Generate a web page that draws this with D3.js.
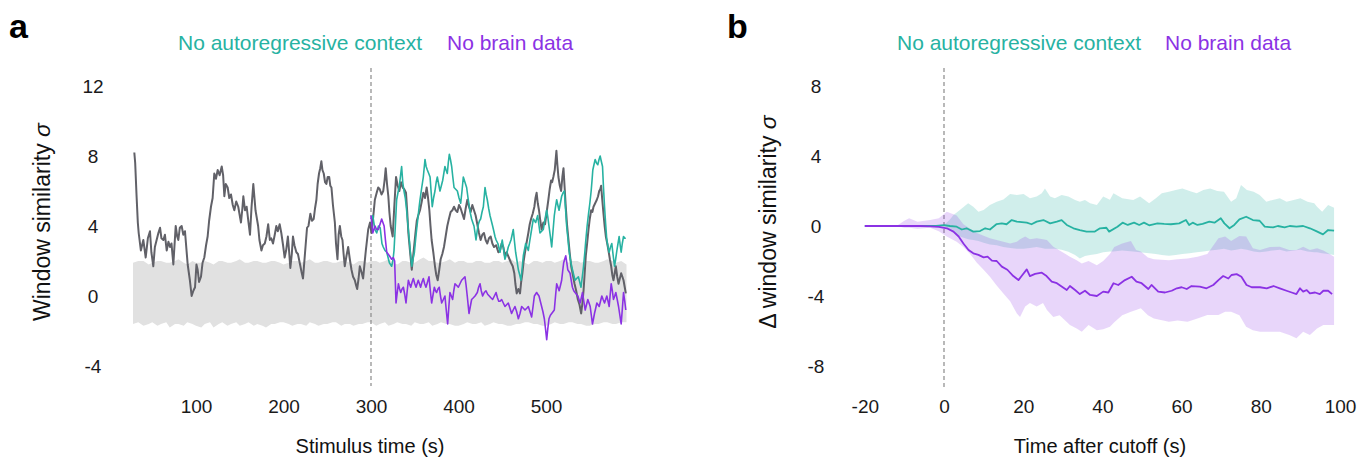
<!DOCTYPE html>
<html>
<head>
<meta charset="utf-8">
<script src="https://cdn.jsdelivr.net/npm/d3@7"></script>
<style>
  body { margin: 0; background: #fff; }
  text { font-family: "Liberation Sans", Arial, Helvetica, sans-serif; }
</style>
</head>
<body>
<div id="chart"></div>
<script>
// ---- data, panel a (stimulus time in s, window similarity in sigma) ----
var fullContext = [[29.5,8.2],[30.5,7.6],[32,5.8],[33.5,4.2],[34.5,3.6],[37,2.6],[39.8,3.2],[42.5,2.2],[45,3.3],[47.4,3.7],[49,2.5],[51.2,1.7],[53,2.8],[55,3.2],[57,3.6],[58.9,3.9],[60.5,3.3],[62.7,3.2],[64.5,3.5],[66.5,2.6],[68.5,3.1],[70.3,2.8],[72,3.0],[74.1,1.8],[76.8,4.0],[78.5,3.4],[79.8,3.2],[81.5,3.9],[83.6,4.0],[85.5,3.5],[87.4,3.7],[90.5,1.8],[93,0.9],[95,0.0],[97,0.3],[98.9,0.5],[100.5,1.8],[101.9,1.5],[103.5,0.8],[105.7,1.1],[107.5,1.9],[109.5,2.2],[111.5,2.9],[113.3,3.4],[115,4.3],[117.1,5.1],[119,5.6],[120.9,7.0],[122.8,6.7],[124.8,7.2],[127,6.9],[129.4,7.4],[131,6.9],[132.4,5.7],[134,6.4],[136.2,6.2],[138,5.6],[140,5.8],[142,5.2],[143.8,4.9],[146,5.4],[148.3,5.1],[150,4.6],[151.4,4.2],[153,5.0],[154.1,5.7],[156,4.9],[157.9,5.1],[160,4.2],[161.7,3.5],[163.5,5.1],[165.5,6.4],[168,4.9],[171,4.0],[172.5,3.2],[174.8,2.6],[176.5,2.9],[178.6,3.0],[180.5,3.4],[182.5,4.1],[184.4,3.2],[186,3.3],[188,3.0],[190,3.5],[191.8,4.0],[193.5,3.7],[195.6,4.1],[197.5,3.6],[199.5,2.9],[201.3,2.2],[203,2.6],[205,3.4],[206.5,2.5],[207.8,1.6],[209.5,2.4],[210.8,3.4],[212.5,2.9],[214.7,2.5],[216.5,2.4],[218.5,1.9],[220.5,1.4],[222.3,1.0],[224.5,2.4],[226.9,3.9],[228.5,4.0],[230.7,4.7],[232.5,4.3],[234.5,4.4],[236,5.0],[237.6,5.5],[239,6.4],[240.6,7.0],[242,7.3],[243.3,7.7],[244.5,7.2],[246,7.0],[247.5,6.5],[249,6.4],[250.5,6.8],[252.2,6.8],[253.5,6.3],[254.8,6.2],[256.5,5.2],[258.7,4.2],[260,3.0],[261.7,2.1],[263,3.5],[264.4,4.0],[266,3.4],[267.4,3.2],[268.7,2.4],[270,1.7],[272,2.3],[273.9,2.8],[275.8,2.1],[277.7,1.5],[279.5,1.1],[281.5,0.9],[283,0.6],[284.2,0.4],[285.8,1.0],[287.2,1.7],[289,1.4],[291,1.0],[292.5,1.8],[294.1,2.6],[296.8,3.8],[298.9,4.2],[300.6,3.6],[302.5,4.5],[304.4,5.5],[306.5,5.9],[308.2,6.2],[310,6.1],[312,5.8],[314,6.0],[315.5,6.6],[316.8,7.3],[318.3,6.4],[319.8,5.7],[321,4.8],[322.5,4.0],[324.8,3.4],[326.5,5.0],[328.6,6.8],[330.5,6.3],[332.4,6.0],[334.3,6.5],[336.2,6.2],[338,6.1],[340,5.9],[341.4,4.8],[342.7,3.6],[344.5,2.6],[346.6,1.5],[348,2.2],[349.2,2.8],[350.8,3.6],[352.3,4.3],[354,4.6],[356,4.9],[358,5.4],[359.8,5.9],[361.7,5.6],[363.6,6.2],[365.2,5.6],[366.7,4.9],[368,4.0],[369.3,3.2],[371.2,2.5],[373.1,1.7],[374.6,1.2],[376.2,0.9],[378,1.5],[379.6,2.1],[381.5,2.4],[383.4,2.8],[385.3,3.4],[387.2,4.0],[389,4.4],[391,4.8],[393,4.9],[394.9,5.1],[396.8,4.9],[398.7,4.8],[400.6,5.2],[402.5,5.0],[404.4,4.7],[406.3,4.4],[408.2,5.0],[410.1,5.5],[412,5.1],[413.9,4.8],[415.8,5.2],[417.7,4.9],[419.6,4.6],[421.5,4.1],[423.4,3.6],[425.3,3.2],[427.2,3.5],[429.1,3.6],[431,3.2],[432.9,3.0],[434.8,3.3],[436.8,3.4],[438.7,3.0],[440.6,2.8],[443,2.9],[445.5,2.5],[447.4,2.6],[449.3,3.0],[451.2,2.8],[453,2.3],[455,2.5],[457.5,2.2],[460,1.9],[462,1.7],[463.8,1.3],[465,0.7],[466.5,0.15],[468.4,0.4],[470.3,0.15],[471.6,0.8],[473,1.3],[474.5,2.0],[476,2.5],[478,3.1],[479.8,3.6],[481.4,4.1],[482.9,4.4],[484.8,4.7],[486.7,5.1],[488,5.6],[489.3,5.9],[490.6,5.3],[492,4.9],[493.5,4.3],[495,3.8],[497,4.2],[498.9,4.1],[500.8,4.8],[502.7,5.5],[504.2,6.1],[505.8,6.6],[507,6.5],[508.4,6.8],[510,7.2],[511.9,8.3],[513,7.5],[514.2,6.8],[515.8,6.3],[517.3,6.0],[518.7,6.8],[520,7.3],[521.3,6.2],[522.6,5.1],[524,4.1],[525.7,3.2],[527.2,2.4],[528.8,1.7],[530.7,1.2],[532.6,0.7],[534.5,0.3],[536.4,-0.2],[538.3,-0.5],[540.2,-1.0],[541.6,-0.4],[542.9,0.3],[544.2,1.3],[545.5,2.3],[547,3.0],[548.6,3.8],[550,4.4],[551.6,4.9],[553,4.8],[554.3,5.1],[556.2,5.3],[558.1,5.5],[559.5,5.7],[560.8,6.0],[562,6.1],[563,6.3],[564.3,5.5],[565.7,4.7],[567,4.0],[568.4,3.4],[570,3.0],[571.4,2.6],[573,2.1],[574.5,1.7],[575.8,1.2],[577.1,0.9],[578.5,1.3],[579.8,1.7],[581.4,1.1],[582.9,0.7],[584.4,1.0],[585.9,1.3],[587.3,1.1],[588.6,0.9],[590,0.5],[591.2,0.15]];

var noContext = [[300,4.4],[302,4.6],[304.5,3.8],[306.5,3.6],[308.5,4.0],[310.5,3.9],[312.5,3.0],[314,2.8],[316,2.6],[318,2.5],[319.5,2.2],[321,1.9],[323.6,1.7],[325,2.0],[326.3,2.6],[327.8,4.0],[329.3,5.5],[330.8,5.9],[332.4,6.3],[333.8,6.9],[335,7.4],[336.3,6.5],[337.7,6.0],[339.2,5.6],[340.7,4.9],[342.3,4.0],[343.8,3.2],[345.2,2.4],[346.6,1.7],[348,2.1],[349.6,2.5],[351.5,3.5],[353.5,4.4],[354.8,5.0],[356,5.5],[358,6.2],[359.8,6.8],[361.7,7.8],[363,7.4],[364.4,7.2],[366,7.0],[367.5,6.8],[368.8,5.9],[370,5.1],[371.5,5.6],[373.1,6.0],[374.5,6.5],[375.8,6.8],[377.3,6.4],[378.8,6.0],[380.4,6.3],[381.9,6.6],[383.2,7.0],[384.5,7.4],[385.8,7.2],[387.2,7.0],[388.3,7.6],[389.5,8.1],[390.8,7.8],[392.2,7.4],[393.5,6.8],[394.9,6.2],[396.8,6.1],[398.7,6.0],[400.6,5.6],[402.5,5.3],[404,6.0],[405.5,6.8],[407.4,6.5],[409.3,6.2],[410.9,5.6],[412.4,5.1],[413.7,4.7],[415,4.4],[416.3,4.2],[417.7,4.0],[418.9,3.6],[420,3.2],[421.3,3.7],[422.7,4.1],[424,4.3],[425.3,4.4],[426.9,4.8],[428.4,5.1],[430.3,6.2],[431.6,5.8],[432.9,5.5],[434.5,5.0],[436,4.6],[437.5,4.3],[439,4.0],[440.4,3.7],[441.7,3.4],[443,3.2],[445,3.0],[447.4,2.5],[450,3.2],[451.5,2.7],[453,2.1],[455,2.4],[456.9,2.8],[458.5,3.0],[460,3.2],[462.6,3.8],[464,3.1],[465.3,2.5],[466.9,2.0],[468.4,1.5],[470,1.2],[471.4,0.9],[472.8,1.6],[474.1,2.3],[476.8,3.0],[478.3,2.8],[479.8,2.6],[481.3,3.1],[482.9,3.6],[484.2,4.0],[485.5,4.4],[486.9,4.3],[488.2,4.2],[490.5,4.6],[491.8,4.1],[493.1,3.6],[495,3.7],[496.9,3.8],[498.9,4.4],[500.8,4.9],[502.1,4.5],[503.4,4.0],[505,3.4],[506.5,2.8],[508,3.7],[509.5,4.6],[510.9,5.1],[512.2,5.5],[513.5,5.2],[514.9,4.9],[516.4,5.3],[517.9,5.7],[519.5,5.9],[521,6.0],[522.3,5.0],[523.6,4.0],[525,3.3],[526.3,2.6],[527.8,2.1],[529.3,1.7],[531.2,1.3],[533.2,0.9],[535,1.0],[537,1.1],[538.5,0.8],[540,0.5],[541.5,1.1],[542.9,1.7],[544.2,2.4],[545.5,3.2],[547,4.0],[548.6,4.7],[550.1,5.3],[551.6,6.0],[552.6,6.6],[553.5,7.2],[554.8,7.5],[556.2,7.8],[557.7,7.6],[559.2,7.5],[560.6,7.8],[561.9,8.0],[563.2,7.7],[564.6,7.4],[565.7,6.2],[566.9,5.1],[568.2,4.1],[569.5,3.2],[570.9,2.8],[572.2,2.5],[573.7,2.8],[575.2,3.0],[576.8,2.3],[578.3,1.7],[579.6,2.1],[581,2.6],[582.3,3.0],[583.6,3.4],[584.8,2.9],[585.9,2.5],[587.2,3.0],[588.6,3.4],[590,3.3],[591.2,3.3]];

var noBrain = [[300,4.6],[302,3.6],[304.6,4.0],[306.5,3.8],[308.4,3.8],[310.3,4.1],[312.2,4.4],[313.6,4.2],[315,4.0],[316.5,3.2],[318,2.5],[319.5,2.4],[321,2.3],[323.6,2.1],[325.5,2.2],[327,2.0],[328.6,-0.4],[330,0.2],[331.3,0.7],[332.7,0.4],[334,0.2],[335.5,0.4],[337,0.5],[338.5,0.1],[340,-0.4],[341.4,0.3],[342.7,0.9],[344,0.7],[345.4,0.5],[347,0.8],[348.4,1.0],[350,0.7],[351.5,0.5],[352.7,0.7],[354,0.9],[355.4,0.7],[356.7,0.5],[358.3,0.8],[359.8,1.0],[361.3,0.7],[362.8,0.5],[364.6,0.8],[366.3,1.1],[367.8,0.3],[369.3,-0.4],[371,0.1],[372.4,0.5],[373.7,0.3],[375,0.2],[376.5,0.4],[378,0.5],[379.4,0.0],[380.8,-0.4],[382.7,-0.2],[384.5,0.0],[386,-0.8],[387.6,-1.6],[389,-0.6],[390.2,0.2],[391.8,0.0],[393.3,-0.2],[394.6,0.3],[396,0.7],[398,0.6],[399.8,0.5],[401.7,0.7],[403.6,0.9],[405.5,1.0],[407.4,1.1],[408.7,0.6],[410,0.0],[411,-0.5],[412,-1.0],[413.5,-0.6],[415,-0.2],[417,-0.1],[418.9,0.0],[420.2,0.1],[421.5,0.2],[423,0.5],[424.6,0.7],[426,0.3],[427.6,0.0],[429.5,0.2],[431.4,0.3],[433.3,0.1],[435.2,0.0],[437,-0.1],[439,-0.2],[441,0.0],[442.9,0.2],[444.5,-0.1],[446,-0.3],[447.5,-0.3],[449.3,-0.2],[451.2,-0.4],[453.1,-0.6],[455,-0.5],[456.9,-0.4],[458.8,-0.7],[460.7,-1.0],[462.5,-0.8],[464.5,-0.6],[466.5,-0.9],[468.4,-1.3],[470.3,-1.0],[472.2,-0.6],[474.1,-0.7],[476,-0.8],[478,-0.7],[479.8,-0.6],[481.7,-0.9],[483.6,-1.2],[485.2,-0.6],[486.7,0.0],[488,0.1],[489.3,0.2],[490.6,0.1],[492,0.0],[493.5,-0.3],[495,-0.6],[496.5,-0.9],[498.1,-1.3],[499.5,-1.9],[500.8,-2.5],[502,-1.9],[503.4,-1.3],[505,-1.1],[506.5,-1.0],[508,-0.9],[509.5,-0.8],[510.9,0.0],[512.2,0.7],[513.6,0.5],[515,0.3],[516.5,0.6],[517.9,0.9],[519,1.4],[520.2,1.9],[521.4,2.1],[522.6,2.3],[523.8,1.9],[524.9,1.5],[526.2,1.4],[527.5,1.3],[528.8,0.9],[530.2,0.5],[531.7,0.3],[533.2,0.2],[534.8,0.1],[536.4,0.0],[537.7,-0.2],[539,-0.4],[540.4,-0.1],[541.7,0.2],[543.2,-0.3],[544.8,-0.8],[546.3,-0.5],[547.8,-0.2],[549.2,-0.4],[550.5,-0.6],[551.8,-1.1],[553.1,-1.6],[554.3,-1.3],[555.4,-1.0],[556.8,-0.7],[558.1,-0.4],[559.5,-0.5],[560.8,-0.6],[562.3,-0.3],[563.8,0.0],[565.3,-0.2],[566.9,-0.4],[568.2,-0.2],[569.5,0.0],[570.9,-0.3],[572.2,-0.6],[573.4,0.1],[574.5,0.7],[575.8,0.3],[577.1,-0.2],[578.5,0.0],[579.8,0.2],[581.4,-0.2],[582.9,-0.6],[584.4,-1.1],[585.9,-1.6],[587.3,-0.7],[588.6,0.2],[590,-0.3],[591.2,-0.8]];

// null distribution band [t, low, high]
var nullBand = [[28,-1.6,1.9],[34,-1.5,2.0],[40,-1.7,2.0],[46,-1.6,1.8],[50,-1.5,1.9],[56,-1.7,2.0],[60,-1.6,2.0],[66,-1.5,1.9],[70,-1.8,1.9],[76,-1.6,2.0],[80,-1.6,2.1],[86,-1.7,1.9],[90,-1.5,1.8],[96,-1.6,2.0],[100,-1.7,1.9],[106,-1.8,1.9],[110,-1.6,2.0],[116,-1.5,1.9],[120,-1.8,1.8],[126,-1.6,2.0],[130,-1.5,2.0],[136,-1.7,1.9],[140,-1.6,1.9],[146,-1.5,2.0],[150,-1.7,2.1],[156,-1.6,1.9],[160,-1.5,1.9],[166,-1.7,2.0],[170,-1.6,2.0],[176,-1.7,1.9],[180,-1.8,1.9],[186,-1.6,2.0],[190,-1.6,2.0],[196,-1.5,1.9],[200,-1.5,1.8],[206,-1.6,1.9],[210,-1.7,2.0],[216,-1.6,2.0],[220,-1.6,1.9],[226,-1.7,2.0],[230,-1.5,2.1],[236,-1.6,1.9],[240,-1.7,1.9],[246,-1.6,2.0],[250,-1.6,2.0],[256,-1.5,1.9],[260,-1.5,1.9],[266,-1.7,2.0],[270,-1.6,2.0],[276,-1.6,1.9],[280,-1.7,1.8],[286,-1.6,2.0],[290,-1.6,2.0],[296,-1.5,1.9],[300,-1.5,2.0],[306,-1.7,2.0],[310,-1.6,1.9],[316,-1.5,2.0],[320,-1.7,2.1],[326,-1.6,1.9],[330,-1.5,1.8],[336,-1.6,2.0],[340,-1.6,2.0],[346,-1.7,1.9],[350,-1.5,1.9],[356,-1.6,2.1],[360,-1.6,2.2],[366,-1.5,2.0],[370,-1.7,2.0],[376,-1.6,1.9],[380,-1.5,1.9],[386,-1.6,2.0],[390,-1.6,2.1],[396,-1.7,1.9],[400,-1.7,2.0],[406,-1.6,2.0],[410,-1.5,1.9],[416,-1.6,1.9],[420,-1.6,2.0],[426,-1.5,2.0],[430,-1.7,1.9],[436,-1.6,1.9],[440,-1.5,2.0],[446,-1.6,2.0],[450,-1.6,1.9],[456,-1.7,2.0],[460,-1.7,2.1],[466,-1.6,1.9],[470,-1.6,2.0],[476,-1.5,1.9],[480,-1.5,1.8],[486,-1.6,2.0],[490,-1.6,2.0],[496,-1.7,1.9],[500,-1.7,2.0],[506,-1.6,2.0],[510,-1.5,1.9],[516,-1.6,2.0],[520,-1.6,2.1],[526,-1.5,1.9],[530,-1.5,2.0],[536,-1.6,2.0],[540,-1.6,1.9],[546,-1.7,2.0],[550,-1.7,2.0],[556,-1.6,1.9],[560,-1.6,1.9],[566,-1.5,2.0],[570,-1.5,2.1],[576,-1.6,2.0],[580,-1.6,1.9],[586,-1.5,2.0],[592,-1.5,1.8]];

// ---- data, panel b (time after cutoff in s, delta window similarity) ----
var deltaContext = [[-20,0],[-15,0],[-10,0],[-5,0],[-2,0],[0,0.05],[1.5,0.0],[3.2,-0.04],[4.5,-0.2],[5.7,-0.13],[7.4,-0.32],[9.1,-0.29],[10.4,-0.13],[11.6,-0.2],[13.3,0.11],[14.6,0.15],[15.8,0.1],[17.1,0.34],[18.4,0.25],[20.9,0.19],[22.1,0.1],[23.4,0.25],[25.1,0.34],[26.8,0.15],[28.5,0.25],[29.7,0.34],[31,0.06],[32.7,-0.13],[34.3,-0.23],[36,-0.32],[38.1,-0.32],[39.4,-0.13],[41,-0.1],[41.7,-0.32],[43.8,-0.04],[45.1,0.19],[46.4,0.06],[48,0.19],[49.3,0.06],[50.5,0.19],[51.8,0.04],[53.9,0.15],[55.6,0.12],[57.3,0.1],[59.4,0.15],[61.1,0.34],[61.9,0.06],[62.8,0.19],[64,0.06],[65.3,0.12],[67,0.25],[68.3,0.19],[69.9,0.44],[70.8,0.15],[72.1,-0.13],[73.3,0.06],[74.6,0.38],[76.3,0.53],[78,0.34],[79.7,0.3],[81,-0.04],[83.1,-0.08],[84.3,0.0],[86,-0.08],[87.3,0.0],[89,-0.04],[90.7,0.0],[92.4,-0.13],[94,-0.29],[95.7,-0.48],[97,-0.23],[98.5,-0.27]];

var deltaBrain = [[-20,0],[-15,0],[-10,0],[-6,0],[-3.5,-0.02],[-1.3,-0.05],[0.7,-0.13],[2.4,-0.32],[3.7,-0.6],[4.9,-1.0],[6.2,-1.37],[7.4,-1.56],[8.7,-1.65],[10,-1.79],[11,-1.75],[12.1,-1.98],[13.3,-2.0],[14.6,-2.32],[16,-2.5],[17.5,-2.86],[18.8,-3.09],[19.6,-2.86],[20.9,-2.48],[21.7,-2.86],[23,-2.74],[24.7,-2.67],[25.9,-2.86],[27.2,-3.18],[28.5,-3.27],[29.7,-3.46],[31,-3.66],[31.8,-3.43],[33.1,-3.66],[34.3,-3.89],[35.6,-3.7],[36.9,-3.94],[38.6,-4.0],[40.2,-3.75],[41.5,-3.8],[42.8,-3.27],[44,-3.37],[45.7,-3.09],[47.4,-2.9],[48.6,-3.18],[49.9,-3.27],[51.6,-3.6],[52.4,-3.37],[54.1,-3.75],[55.8,-3.8],[57.5,-3.7],[58.8,-3.56],[60,-3.5],[61.3,-3.6],[62.5,-3.43],[64.6,-3.46],[66.3,-3.56],[68,-3.37],[69.3,-3.09],[70.5,-2.86],[71.8,-3.0],[72.6,-2.8],[73.9,-2.75],[75.1,-2.9],[76.4,-3.37],[77.7,-3.5],[79.8,-3.5],[81.5,-3.56],[83.2,-3.43],[84.8,-3.56],[86.5,-3.7],[87.8,-3.8],[89,-3.89],[89.9,-3.56],[90.7,-3.75],[91.6,-3.66],[92.4,-3.85],[93.7,-3.8],[94.9,-3.89],[95.8,-3.7],[97,-3.7],[98,-3.89]];

// [t, low, high]
var contextBand = [[-20,0,0],[0,0,0.05],[1.6,-0.23,0.4],[2.4,-0.4,0.63],[4,-0.6,0.91],[6.1,-0.75,1.3],[7.4,-0.8,1.1],[8.7,-0.85,0.82],[10,-0.95,0.91],[11.6,-1.05,1.2],[13.3,-1.1,1.39],[15,-1.2,1.52],[16.7,-1.25,1.83],[18.4,-1.3,1.77],[20.1,-1.3,1.83],[21.7,-1.25,1.58],[23.4,-1.2,1.68],[24.7,-1.25,1.87],[25.5,-1.3,2.15],[26.8,-1.3,1.68],[28,-1.3,1.58],[29.7,-1.35,1.77],[31.4,-1.47,1.68],[33.1,-1.66,1.49],[34.3,-1.85,1.39],[35.6,-1.72,1.49],[36.9,-1.65,1.3],[38.6,-1.6,1.2],[40.2,-1.5,1.68],[41.9,-1.45,1.5],[42.8,-1.45,1.87],[45,-1.4,1.58],[47.8,-1.45,1.49],[49.5,-1.5,1.68],[51.8,-1.55,1.3],[53.5,-1.6,1.58],[55,-1.65,1.87],[56.8,-1.7,1.96],[58.5,-1.65,2.06],[60.2,-1.6,2.15],[62,-1.55,2.0],[63.8,-1.5,1.87],[65.5,-1.45,2.06],[67.2,-1.4,2.15],[69,-1.35,2.0],[70.7,-1.3,1.96],[72.5,-1.4,1.39],[73.8,-1.35,1.58],[75,-1.3,2.34],[76.5,-1.35,2.06],[78.2,-1.45,1.96],[79.7,-1.5,1.77],[81.4,-1.45,1.39],[83,-1.4,1.49],[84.8,-1.35,1.58],[86.5,-1.45,1.39],[88.3,-1.4,1.49],[90,-1.35,1.58],[91.8,-1.45,1.39],[93.5,-1.5,1.3],[94.2,-1.5,1.1],[95.5,-1.55,0.82],[97,-1.6,1.2],[98.5,-1.65,1.05]];

var brainBand = [[-20,0,0],[-12,0,0],[-10,-0.1,0.3],[-8.8,-0.1,0.44],[-6.7,-0.15,0.25],[-3.5,-0.1,0.35],[-1.3,-0.3,0.44],[0.7,-0.6,0.82],[3.2,-0.9,0.6],[4.9,-1.2,0.1],[6.6,-1.6,-0.15],[8.3,-2.1,-0.4],[10,-2.5,-0.55],[11.6,-2.9,-0.7],[13.3,-3.4,-0.8],[15,-3.85,-0.9],[16.7,-4.3,-1.0],[18.4,-5.0,-0.9],[19.2,-5.2,-0.75],[20.5,-4.6,-0.6],[21.7,-4.4,-0.75],[23.4,-4.6,-0.7],[25,-4.4,-0.75],[26,-4.8,-0.8],[27.6,-5.2,-1.18],[29.2,-5.1,-1.4],[31.8,-5.66,-1.75],[33.5,-5.85,-1.95],[34.8,-6.04,-2.14],[36.5,-5.66,-2.0],[38.6,-5.95,-2.24],[40.2,-5.9,-2.0],[41.9,-5.75,-1.6],[43,-5.5,-1.2],[45,-5.1,-1.0],[47.2,-4.9,-0.85],[48.5,-4.8,-1.37],[49.7,-4.7,-1.45],[51.5,-5.1,-1.8],[53,-5.28,-1.9],[56.8,-5.47,-1.95],[59,-5.4,-1.9],[61.5,-5.47,-1.85],[64,-5.28,-1.75],[66.5,-5.09,-1.6],[69.3,-5.09,-0.7],[71,-4.9,-0.6],[72.5,-4.9,-0.85],[74.6,-5.1,-0.57],[76.3,-5.75,-0.6],[78,-5.95,-1.27],[79.8,-6.04,-1.37],[82.3,-6.04,-1.2],[84.8,-6.04,-1.18],[87.2,-6.23,-1.37],[89,-6.42,-1.37],[90.7,-6.04,-1.18],[92.4,-6.23,-1.37],[94.2,-5.85,-1.27],[95.8,-5.66,-1.4],[98.5,-5.66,-1.75]];

var ticksA_x = [100, 200, 300, 400, 500],
    ticksA_y = [-4, 0, 4, 8, 12],
    ticksB_x = [-20, 0, 20, 40, 60, 80, 100],
    ticksB_y = [-8, -4, 0, 4, 8];

var legendLabels = ["No autoregressive context", "No brain data"];

// ---- colours ----
var teal = "#27b2a2", purple = "#8b32e4", grey = "#616168";

var W = 1368, H = 461;
var svg = d3.select("#chart").append("svg")
    .attr("width", W)
    .attr("height", H);

// scales (both panels share the vertical spacing)
var xa = d3.scaleLinear().domain([0, 600]).range([108.5, 633.5]);
var ya = d3.scaleLinear().domain([-4, 12]).range([366, 86]);
var xb = d3.scaleLinear().domain([-20, 100]).range([864.8, 1340]);
var yb = d3.scaleLinear().domain([-8, 8]).range([366, 86]);

// plain hyphen for negatives, like the original figure
function plain(d) { return String(d); }

function drawAxes(g, x, y, xt, yt, yAxisX) {
  var ax = g.append("g")
      .attr("transform", "translate(0,413)")
      .call(d3.axisBottom(x).tickValues(xt).tickSize(0).tickFormat(plain));
  ax.select(".domain").remove();
  ax.selectAll("text").attr("y", 0).attr("dy", null)
    .style("font-size", "19px").attr("fill", "#1a1a1a");

  var ay = g.append("g")
      .attr("transform", "translate(" + yAxisX + ",0)")
      .call(d3.axisLeft(y).tickValues(yt).tickSize(0).tickFormat(plain));
  ay.select(".domain").remove();
  ay.selectAll("text").attr("x", -16).attr("text-anchor", "middle")
    .style("font-size", "19px").attr("fill", "#1a1a1a");
}

function yTitle(g, x, label) {
  var t = g.append("text")
    .attr("transform", "translate(" + x + ",222) rotate(-90)")
    .attr("text-anchor", "middle")
    .style("font-size", "23px")
    .attr("fill", "#111");
  t.append("tspan").text(label + " ");
  t.append("tspan").style("font-style", "italic").text("σ");
}

// ======== panel a ========
var ga = svg.append("g");
drawAxes(ga, xa, ya, ticksA_x, ticksA_y, 109);

ga.append("path")
  .datum(nullBand)
  .attr("fill", "#e1e1e1")
  .attr("d", d3.area()
    .x(function(d) { return xa(d[0]); })
    .y0(function(d) { return ya(d[1]); })
    .y1(function(d) { return ya(d[2]); }));

ga.append("line")
  .attr("x1", xa(300)).attr("x2", xa(300))
  .attr("y1", 68).attr("y2", 386)
  .attr("stroke", "#8a8a8a").attr("stroke-width", 1.2)
  .attr("stroke-dasharray", "4,3");

var lineA = d3.line()
  .x(function(d) { return xa(d[0]); })
  .y(function(d) { return ya(d[1]); });

ga.append("path").datum(fullContext)
  .attr("fill", "none").attr("stroke", grey).attr("stroke-width", 2)
  .attr("stroke-linejoin", "round").attr("d", lineA);
ga.append("path").datum(noContext)
  .attr("fill", "none").attr("stroke", teal).attr("stroke-width", 1.6)
  .attr("stroke-linejoin", "round").attr("d", lineA);
ga.append("path").datum(noBrain)
  .attr("fill", "none").attr("stroke", purple).attr("stroke-width", 1.6)
  .attr("stroke-linejoin", "round").attr("d", lineA);

ga.append("text")
  .attr("x", 370).attr("y", 453)
  .attr("text-anchor", "middle")
  .style("font-size", "20px")
  .attr("fill", "#111")
  .text("Stimulus time (s)");

yTitle(ga, 50, "Window similarity");

ga.append("text").attr("x", 178).attr("y", 50)
  .style("font-size", "21px").attr("fill", teal).text(legendLabels[0]);
ga.append("text").attr("x", 447).attr("y", 50)
  .style("font-size", "21px").attr("fill", purple).text(legendLabels[1]);

ga.append("text").attr("x", 9).attr("y", 38)
  .style("font-size", "34px").style("font-weight", "bold").text("a");

// ======== panel b ========
var gb = svg.append("g");
drawAxes(gb, xb, yb, ticksB_x, ticksB_y, 832);

gb.append("line")
  .attr("x1", xb(0)).attr("x2", xb(0))
  .attr("y1", 68).attr("y2", 388)
  .attr("stroke", "#8a8a8a").attr("stroke-width", 1.2)
  .attr("stroke-dasharray", "4,3");

var areaB = d3.area()
  .x(function(d) { return xb(d[0]); })
  .y0(function(d) { return yb(d[1]); })
  .y1(function(d) { return yb(d[2]); });

gb.append("path").datum(contextBand)
  .attr("fill", teal).attr("fill-opacity", 0.22).attr("d", areaB);
gb.append("path").datum(brainBand)
  .attr("fill", "#9446e6").attr("fill-opacity", 0.22).attr("d", areaB);

var lineB = d3.line()
  .x(function(d) { return xb(d[0]); })
  .y(function(d) { return yb(d[1]); });

gb.append("path").datum(deltaContext)
  .attr("fill", "none").attr("stroke", teal).attr("stroke-width", 1.8)
  .attr("stroke-linejoin", "round").attr("d", lineB);
gb.append("path").datum(deltaBrain)
  .attr("fill", "none").attr("stroke", purple).attr("stroke-width", 1.8)
  .attr("stroke-linejoin", "round").attr("d", lineB);

gb.append("text")
  .attr("x", 1100).attr("y", 453)
  .attr("text-anchor", "middle")
  .style("font-size", "20px")
  .attr("fill", "#111")
  .text("Time after cutoff (s)");

yTitle(gb, 776, "Δ window similarity");

gb.append("text").attr("x", 897).attr("y", 50)
  .style("font-size", "21px").attr("fill", teal).text(legendLabels[0]);
gb.append("text").attr("x", 1165).attr("y", 50)
  .style("font-size", "21px").attr("fill", purple).text(legendLabels[1]);

gb.append("text").attr("x", 727).attr("y", 38)
  .style("font-size", "34px").style("font-weight", "bold").text("b");
</script>
</body>
</html>
